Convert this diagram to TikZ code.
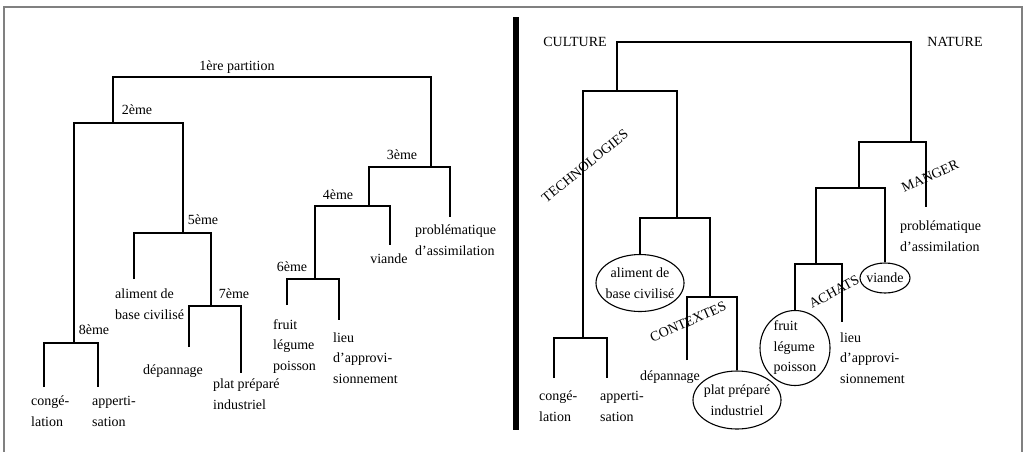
\documentclass[tikz,border=0pt]{standalone}
\usepackage{fontspec}
\setmainfont{Liberation Serif}
\usetikzlibrary{shapes.geometric}
\begin{document}
\begin{tikzpicture}[
    x=1pt, y=-1pt,
    font=\fontsize{14}{20.5}\selectfont,
    leaf/.style={inner sep=0pt, anchor=base west, align=left},
    lab/.style={inner sep=0pt, anchor=base},
    tag/.style={inner sep=0pt},
    oval/.style={draw, ellipse, inner sep=-8pt, align=center, line width=1.1pt},
    branch/.style={line width=1.3pt}
]
\useasboundingbox (0,0) rectangle (1027,451);
\draw[gray, line width=1.3pt] (4,470) |- (1022,7) -- (1022,470);
\draw[line width=6pt] (516,17) -- (516,430);

\coordinate (l1) at (237,77);
\coordinate (l2) at (113,123);
\coordinate (l3) at (431,167);
\coordinate (l4) at (369,206);
\coordinate (l5) at (183,233);
\coordinate (l6) at (315,279);
\coordinate (l7) at (211,306);
\coordinate (l8) at (74,343);
\node[lab] (t1) at (237,70) {1ère partition};
\node[lab] (t2) at (137,114) {2ème};
\node[lab] (t3) at (402,159) {3ème};
\node[lab] (t4) at (338,199) {4ème};
\node[lab] (t5) at (203,224) {5ème};
\node[lab] (t6) at (292,271) {6ème};
\node[lab] (t7) at (234,298) {7ème};
\node[lab] (t8) at (94,334) {8ème};

\node[leaf] (congL) at (31,426) {congé-\\lation};
\node[leaf] (appL) at (92,426) {apperti-\\sation};
\node[leaf] (alimL) at (115,319) {aliment de\\base civilisé};
\node[lab] (depL) at (173,374) {dépannage};
\node[leaf] (platL) at (213,409) {plat préparé\\industriel};
\node[leaf] (fruitL) at (273,370) {fruit\\légume\\poisson};
\node[leaf] (lieuL) at (333,383) {lieu\\d’approvi-\\sionnement};
\node[lab] (viandeL) at (389,263) {viande};
\node[leaf] (probL) at (415,255) {problématique\\d’assimilation};
\coordinate (congLs) at (44,387);
\coordinate (appLs) at (98,387);
\coordinate (alimLs) at (134,279);
\coordinate (depLs) at (189,347);
\coordinate (platLs) at (241,373);
\coordinate (fruitLs) at (287,305);
\coordinate (lieuLs) at (339,320);
\coordinate (viandeLs) at (390,245);
\coordinate (probLs) at (450,217);

\draw[branch] (congLs) |- (l8) -| (appLs);
\draw[branch] (depLs) |- (l7) -| (platLs);
\draw[branch] (alimLs) |- (l5) -| (l7);
\draw[branch] (l8) |- (l2) -| (l5);
\draw[branch] (fruitLs) |- (l6) -| (lieuLs);
\draw[branch] (l6) |- (l4) -| (viandeLs);
\draw[branch] (l4) |- (l3) -| (probLs);
\draw[branch] (l2) |- (l1) -| (l3);

\coordinate (r1) at (764,42);
\coordinate (r2) at (617,91);
\coordinate (r3) at (911,142);
\coordinate (r4) at (859,188);
\coordinate (r5) at (677,218);
\coordinate (r6) at (816,264);
\coordinate (r7) at (710,297);
\coordinate (r8) at (583,338);
\node[lab] (culture) at (575,46) {CULTURE};
\node[lab] (nature) at (955,46) {NATURE};
\node[tag, rotate=39] (techno) at (585,166) {TECHNOLOGIES};
\node[tag, rotate=24] (contextes) at (688,322) {CONTEXTES};
\node[tag, rotate=24] (manger) at (930,176) {MANGER};
\node[tag, rotate=28] (achats) at (834,292) {ACHATS};

\node[leaf] (congR) at (539,421) {congé-\\lation};
\node[leaf] (appR) at (600,421) {apperti-\\sation};
\node[oval, minimum width=88pt, minimum height=57pt] (alimR) at (640,283) {aliment de\\base civilisé};
\node[lab] (depR) at (670,380) {dépannage};
\node[oval, minimum width=88pt, minimum height=58pt] (platR) at (737,400) {plat préparé\\industriel};
\node[oval, minimum width=70pt, minimum height=75pt, align=left] (fruitR) at (795,348) {fruit\\légume\\poisson};
\node[leaf] (lieuR) at (840,383) {lieu\\d’approvi-\\sionnement};
\node[oval, minimum width=50pt, minimum height=30pt] (viandeR) at (885,278) {viande};
\node[leaf] (probR) at (900,251) {problématique\\d’assimilation};
\coordinate (congRs) at (554,378);
\coordinate (appRs) at (607,378);
\coordinate (depRs) at (687,360);
\coordinate (lieuRs) at (842,322);
\coordinate (probRs) at (926,207);

\draw[branch] (congRs) |- (r8) -| (appRs);
\draw[branch] (depRs) |- (r7) -| (platR);
\draw[branch] (alimR) |- (r5) -| (r7);
\draw[branch] (r8) |- (r2) -| (r5);
\draw[branch] (fruitR) |- (r6) -| (lieuRs);
\draw[branch] (r6) |- (r4) -| (viandeR);
\draw[branch] (r4) |- (r3) -| (probRs);
\draw[branch] (r2) |- (r1) -| (r3);
\end{tikzpicture}
\end{document}
